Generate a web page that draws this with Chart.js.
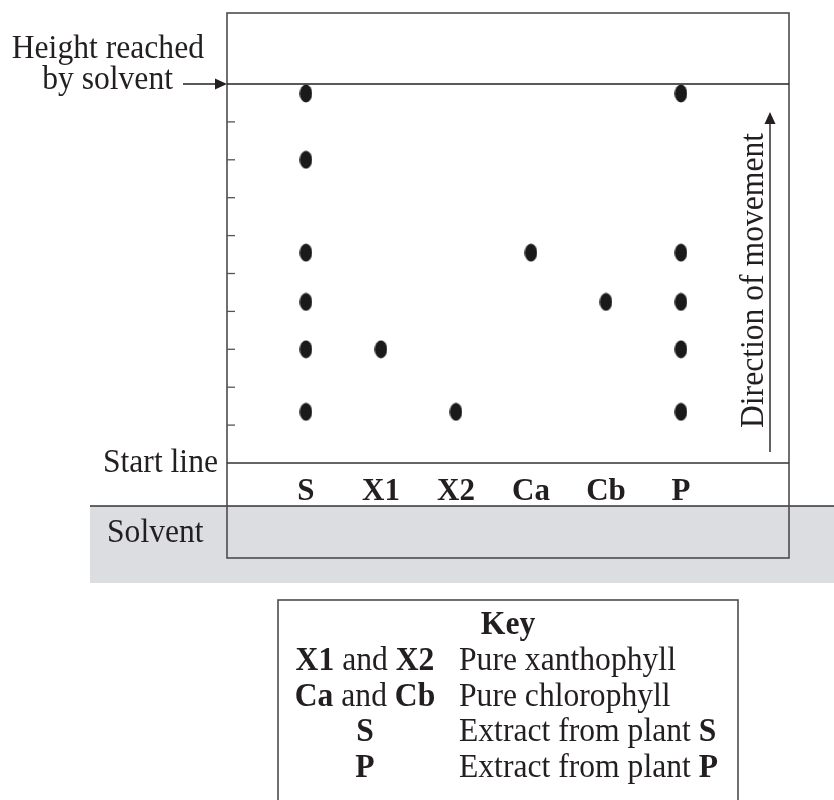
<!DOCTYPE html>
<html>
<head>
<meta charset="utf-8">
<script src="https://cdn.jsdelivr.net/npm/chart.js@4.4.0/dist/chart.umd.min.js"></script>
<style>
  html, body { margin: 0; padding: 0; background: #ffffff; }
  canvas { display: block; }
</style>
</head>
<body>
<canvas id="chart" width="834" height="800"></canvas>
<script>
// lanes on the paper, left to right
const lanes = ['S', 'X1', 'X2', 'Ca', 'Cb', 'P'];
// spot heights above the start line (start line = 0, solvent front = 10)
const spotsS = [9.75, 8.0, 5.55, 4.25, 3.0, 1.35];
const spotsX1 = [3.0];
const spotsX2 = [1.35];
const spotsCa = [5.55];
const spotsCb = [4.25];
const spotsP = [9.75, 5.55, 4.25, 3.0, 1.35];
const yTicks = [1, 2, 3, 4, 5, 6, 7, 8, 9];

const keyLeft = [
  [['X1', true], [' and ', false], ['X2', true]],
  [['Ca', true], [' and ', false], ['Cb', true]],
  [['S', true]],
  [['P', true]]
];
const keyRight = [
  [['Pure xanthophyll', false]],
  [['Pure chlorophyll', false]],
  [['Extract from plant ', false], ['S', true]],
  [['Extract from plant ', false], ['P', true]]
];

const INK = '#231f20';
const SX = 0.93; // reference type is a little narrow

function fnt(bold) {
  return (bold ? 'bold ' : '') + '34px "Liberation Serif"';
}

// draws runs of [text, bold] with a horizontal squeeze
function runs(ctx, parts, x, y, align) {
  ctx.save();
  let w = 0;
  parts.forEach(p => { ctx.font = fnt(p[1]); w += ctx.measureText(p[0]).width * SX; });
  let start = x;
  if (align === 'right') start = x - w;
  if (align === 'center') start = x - w / 2;
  ctx.translate(start, y);
  ctx.scale(SX, 1);
  ctx.fillStyle = INK;
  ctx.textBaseline = 'alphabetic';
  ctx.textAlign = 'left';
  let cx = 0;
  parts.forEach(p => {
    ctx.font = fnt(p[1]);
    ctx.fillText(p[0], cx, 0);
    cx += ctx.measureText(p[0]).width;
  });
  ctx.restore();
}

function line(ctx, x1, y1, x2, y2, color, w) {
  ctx.beginPath();
  ctx.moveTo(x1, y1);
  ctx.lineTo(x2, y2);
  ctx.strokeStyle = color;
  ctx.lineWidth = w;
  ctx.stroke();
}

function spotImage() {
  const c = document.createElement('canvas');
  c.width = 13;
  c.height = 19;
  const g = c.getContext('2d');
  g.fillStyle = '#1a1a1a';
  g.beginPath();
  g.ellipse(6.5, 9.5, 6.3, 9, 0, 0, Math.PI * 2);
  g.fill();
  return c;
}
const spot = spotImage();

const laneSpots = [spotsS, spotsX1, spotsX2, spotsCa, spotsCb, spotsP];
const datasets = laneSpots.map((vals, i) => ({
  label: lanes[i],
  data: vals.map(v => ({ x: i, y: v })),
  pointStyle: spot,
  pointRadius: 7,
  showLine: false
}));

const diagram = {
  id: 'diagram',
  beforeDraw(chart) {
    const ctx = chart.ctx;
    const area = chart.chartArea;
    const ys = chart.scales.y;
    const front = ys.getPixelForValue(10);
    const start = ys.getPixelForValue(0);
    ctx.save();
    ctx.fillStyle = '#ffffff';
    ctx.fillRect(0, 0, chart.width, chart.height);
    // solvent in the tank
    ctx.fillStyle = '#dcdde0';
    ctx.fillRect(90, 506, chart.width - 90, 77);
    line(ctx, 90, 506, chart.width, 506, '#333333', 1.6);
    // paper
    ctx.strokeStyle = '#4d4d4d';
    ctx.lineWidth = 1.6;
    ctx.strokeRect(area.left, 13, area.right - area.left, 545);
    line(ctx, area.left, front, area.right, front, '#222222', 1.6);
    line(ctx, area.left, start, area.right, start, '#333333', 1.6);
    yTicks.forEach(v => {
      const y = ys.getPixelForValue(v);
      line(ctx, area.left, y, area.left + 8, y, '#555555', 1.3);
    });
    ctx.restore();
  },
  afterDraw(chart) {
    const ctx = chart.ctx;
    const area = chart.chartArea;
    const ys = chart.scales.y;
    const front = ys.getPixelForValue(10);
    const start = ys.getPixelForValue(0);
    ctx.save();
    // solvent front label and arrow
    runs(ctx, [['Height reached', false]], 204, 58, 'right');
    runs(ctx, [['by solvent', false]], 173, 89, 'right');
    line(ctx, 183, front, area.left - 10, front, INK, 1.4);
    ctx.fillStyle = INK;
    ctx.beginPath();
    ctx.moveTo(area.left, front);
    ctx.lineTo(area.left - 12, front - 5.5);
    ctx.lineTo(area.left - 12, front + 5.5);
    ctx.closePath();
    ctx.fill();

    runs(ctx, [['Start line', false]], 218, start + 9, 'right');
    runs(ctx, [['Solvent', false]], 107, 542, 'left');

    // direction of movement
    ctx.save();
    ctx.translate(763, 428);
    ctx.rotate(-Math.PI / 2);
    runs(ctx, [['Direction of movement', false]], 0, 0, 'left');
    ctx.restore();
    line(ctx, 770, 452, 770, 122, INK, 1.4);
    ctx.fillStyle = INK;
    ctx.beginPath();
    ctx.moveTo(770, 112);
    ctx.lineTo(764.5, 124);
    ctx.lineTo(775.5, 124);
    ctx.closePath();
    ctx.fill();

    // key
    ctx.strokeStyle = '#4d4d4d';
    ctx.lineWidth = 1.6;
    ctx.strokeRect(278, 600, 460, 240);
    runs(ctx, [['Key', true]], 508, 634, 'center');
    keyLeft.forEach((parts, i) => {
      const y = 670 + i * 35.7;
      runs(ctx, parts, 365, y, 'center');
      runs(ctx, keyRight[i], 459, y, 'left');
    });
    ctx.restore();
  }
};

new Chart(document.getElementById('chart'), {
  type: 'scatter',
  data: { datasets: datasets },
  options: {
    responsive: false,
    animation: false,
    devicePixelRatio: 1,
    layout: { padding: { left: 227, right: 45, top: 84, bottom: 0 } },
    plugins: { legend: { display: false }, tooltip: { enabled: false } },
    scales: {
      x: {
        type: 'linear',
        min: -1.053,
        max: 6.44,
        grid: { display: false },
        border: { display: false },
        afterBuildTicks: scale => { scale.ticks = lanes.map((_, i) => ({ value: i })); },
        afterFit: scale => { scale.height = 337; },
        ticks: {
          autoSkip: false,
          maxRotation: 0,
          padding: 2,
          color: INK,
          font: { family: '"Liberation Serif"', size: 31, weight: 'bold' },
          callback: v => lanes[v]
        }
      },
      y: {
        type: 'linear',
        min: 0,
        max: 10,
        display: false
      }
    }
  },
  plugins: [diagram]
});
</script>
</body>
</html>
